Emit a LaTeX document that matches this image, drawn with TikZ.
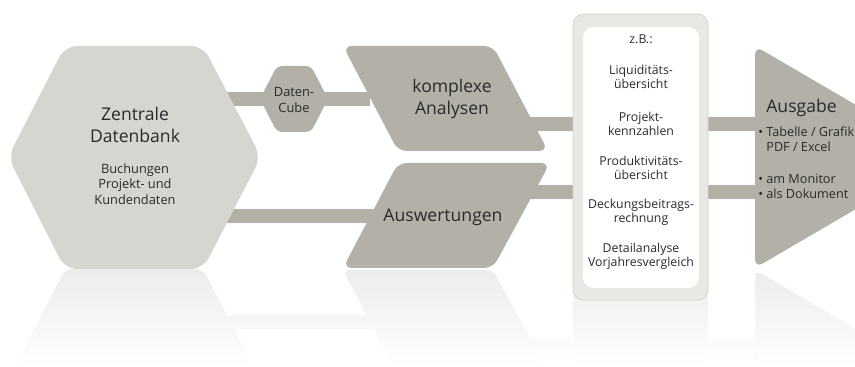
\documentclass[tikz,border=0pt]{standalone}
\usepackage{fontspec}
\setmainfont{Open Sans}
\usetikzlibrary{positioning}

\definecolor{hexgray}{HTML}{D7D5D0}
\definecolor{shapegray}{HTML}{B3B0A7}
\definecolor{boxgray}{HTML}{E9E8E4}
\definecolor{boxline}{HTML}{D3D1CC}
\definecolor{txt}{HTML}{2A2A2A}
\definecolor{refl}{HTML}{EDECEA}

\tikzset{
    dbshape/.style={insert path={(8,157) -- (65,46) -- (203,46) -- (261,157) -- (203,269) -- (65,269) -- cycle}},
    cubeshape/.style={insert path={(260,99) -- (277,66) -- (311,66) -- (328,99) -- (311,132) -- (277,132) -- cycle}},
    komplshape/.style={insert path={(343,46) -- (493,46) -- (548,151) -- (398,151) -- cycle}},
    ausshape/.style={insert path={(398,163) -- (550,163) -- (493,268) -- (343,268) -- cycle}},
    outshape/.style={insert path={(755,46) -- (945,157) -- (755,268) -- cycle}},
    boxshape/.style={insert path={(573,14) rectangle (708,300)}},
    lowbar/.style={insert path={(225,209) rectangle (400,223)}},
    rbar/.style={insert path={(520,185) rectangle (760,199)}}
}

\begin{document}
\begin{tikzpicture}[x=0.02cm, y=-0.02cm,
        bar/.style={draw=shapegray, line width=0.28cm},
        bigtxt/.style={text=txt, align=center, inner sep=0pt, font=\fontsize{10}{12.2}\selectfont},
        midtxt/.style={text=txt, align=center, inner sep=0pt, font=\fontsize{7.3}{8.8}\selectfont},
        smalltxt/.style={text=txt, align=center, inner sep=0pt, font=\fontsize{7}{8}\selectfont},
        listtxt/.style={text=txt, align=left, inner sep=0pt, anchor=west, font=\fontsize{7.2}{8.5}\selectfont}]
        \useasboundingbox (0,0) rectangle (855,367);
        \clip (0,0) rectangle (855,367);

        % Reflections
        \begin{scope}[shift={(0,538)}, yscale=-1]
            \foreach \s in {dbshape, ausshape, outshape, boxshape, lowbar, rbar}{
                \begin{scope}
                    \clip[rounded corners=4pt, \s];
                    \shade[top color=refl, bottom color=white] (0,171) rectangle (855,269);
                \end{scope}
            }
        \end{scope}

        % Connectors
        \coordinate (dbtop) at (225,99);
        \coordinate (kin) at (370,99);
        \coordinate (dblow) at (225,216);
        \coordinate (ain) at (400,216);
        \coordinate (kout) at (520,124);
        \coordinate (outtop) at (760,124);
        \coordinate (aout) at (520,192);
        \coordinate (outlow) at (760,192);
        \draw[bar] (dbtop) -- (kin);
        \draw[bar] (dblow) -- (ain);
        \draw[bar] (kout) -- (outtop);
        \draw[bar] (aout) -- (outlow);

        % Shapes
        \fill[hexgray, rounded corners=7pt, dbshape];
        \fill[shapegray, rounded corners=3pt, cubeshape];
        \fill[shapegray, rounded corners=5pt, komplshape];
        \fill[shapegray, rounded corners=5pt, ausshape];
        \fill[shapegray, rounded corners=5pt, outshape];
        \draw[fill=boxgray, draw=boxline, rounded corners=6pt, boxshape];
        \fill[white, rounded corners=6pt] (583,27) rectangle (699,288);

        % Nodes
        \node[bigtxt] (db) at (135,125) {Zentrale\\Datenbank};
        \node[midtxt] (dbsub) at (135,184) {Buchungen\\Projekt- und\\Kundendaten};
        \node[midtxt] (cube) at (294,100) {Daten-\\Cube};
        \node[bigtxt] (kompl) at (452,99) {komplexe\\Analysen};
        \node[bigtxt] (ausw) at (443,217) {Auswertungen};

        \node[smalltxt] (zb) at (641,39) {z.B.:};
        \node[smalltxt] (liq) at (641,77) {Liquiditäts-\\übersicht};
        \node[smalltxt] (proj) at (641,124) {Projekt-\\kennzahlen};
        \node[smalltxt] (prod) at (641,168) {Produktivitäts-\\übersicht};
        \node[smalltxt] (deck) at (641,212.5) {Deckungsbeitrags-\\rechnung};
        \node[smalltxt] (detail) at (641,256) {Detailanalyse\\Vorjahresvergleich};

        \node[bigtxt, anchor=west] (out) at (766,108) {Ausgabe};
        \node[listtxt] (form) at (758,139.5) {• Tabelle / Grafik\\\hphantom{•} PDF / Excel};
        \node[listtxt] (medium) at (758,186.5) {• am Monitor\\• als Dokument};
\end{tikzpicture}
\end{document}
